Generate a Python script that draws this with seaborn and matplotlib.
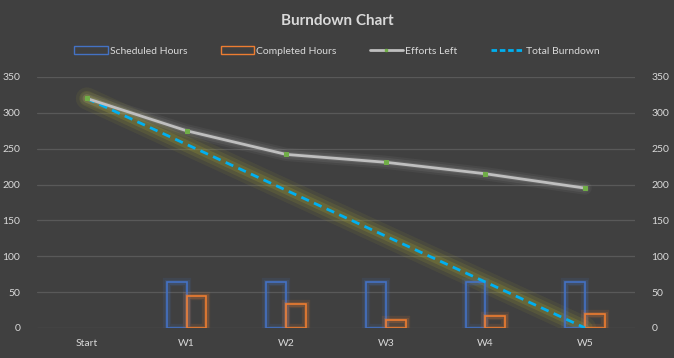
import numpy as np
import pandas as pd
import matplotlib
matplotlib.use("Agg")
import matplotlib.pyplot as plt
import matplotlib.patheffects as pe
from matplotlib.patches import Patch
from matplotlib.lines import Line2D
import seaborn as sns

# Dados
weeks = ["Start", "W1", "W2", "W3", "W4", "W5"]
scheduled = [0, 64, 64, 64, 64, 64]
completed = [0, 45, 33, 11, 16, 20]
efforts_left = [320, 275, 242, 231, 215, 195]
total_burndown = [320, 256, 192, 128, 64, 0]

bg = "#404040"
txt = "#D9D9D9"

sns.set_theme(style="dark")
plt.rcParams["font.family"] = ["Lato", "DejaVu Sans"]

fig = plt.figure(figsize=(6.74, 3.58), dpi=100, facecolor=bg)
ax = fig.add_axes([0.055, 0.084, 0.887, 0.701])
ax.set_facecolor(bg)

# Barras (só contorno)
df = pd.DataFrame({
    "week": weeks * 2,
    "hours": scheduled + completed,
    "serie": ["Scheduled Hours"] * 6 + ["Completed Hours"] * 6,
})
sns.barplot(data=df, x="week", y="hours", hue="serie", order=weeks,
            palette=["#4472C4", "#ED7D31"], fill=False, width=0.4,
            linewidth=1.2, legend=False, ax=ax, zorder=3)
for p in ax.patches:
    if p.get_height() == 0:
        p.set_visible(False)
        continue
    ec = p.get_edgecolor()
    p.set_path_effects([pe.Stroke(linewidth=6, foreground=ec, alpha=0.12),
                        pe.Stroke(linewidth=3.5, foreground=ec, alpha=0.2),
                        pe.Normal()])

x = np.arange(len(weeks))

# brilho (glow) por baixo das linhas
for lw, a in [(16, 0.08), (11, 0.12), (6, 0.18)]:
    sns.lineplot(x=x, y=total_burndown, ax=ax, color="#B8B830", linewidth=lw,
                 alpha=a, zorder=2, solid_capstyle="round")
    sns.lineplot(x=x, y=efforts_left, ax=ax, color="#A8A8A8", linewidth=lw * 0.6,
                 alpha=a, zorder=2, solid_capstyle="round")

sns.lineplot(x=x, y=total_burndown, ax=ax, color="#00B0F0", linewidth=2,
             zorder=4)
ax.lines[-1].set_dashes((3, 2))
sns.lineplot(x=x, y=efforts_left, ax=ax, color="#BFBFBF", linewidth=2,
             marker="s", markersize=2.5, markerfacecolor="#70AD47",
             markeredgecolor="#70AD47", zorder=5)

ax.set_xlim(-0.5, 5.5)
ax.set_ylim(0, 350)
ax.set_yticks(range(0, 351, 50))
ax.set_xticks(x)
ax.set_xticklabels(weeks)
ax.set_xlabel("")
ax.set_ylabel("")
ax.grid(axis="y", color="#595959", linewidth=0.9)
ax.grid(axis="x", visible=False)
ax.set_axisbelow(True)
for s in ax.spines.values():
    s.set_visible(False)
ax.tick_params(colors=txt, labelsize=7.5, length=0, pad=8)
ax.tick_params(axis="y", pad=12)

ax2 = ax.twinx()
ax2.set_ylim(0, 350)
ax2.set_yticks(range(0, 351, 50))
ax2.tick_params(colors=txt, labelsize=7.5, length=0, pad=12)
ax2.grid(False)
for s in ax2.spines.values():
    s.set_visible(False)

fig.text(0.5, 0.94, "Burndown Chart", ha="center", va="center",
         color=txt, fontsize=11, fontweight="bold")

handles = [
    Patch(facecolor="none", edgecolor="#4472C4", linewidth=1),
    Patch(facecolor="none", edgecolor="#ED7D31", linewidth=1),
    Line2D([], [], color="#BFBFBF", linewidth=2, marker="s", markersize=2,
           markerfacecolor="#70AD47", markeredgecolor="#70AD47"),
    Line2D([], [], color="#00B0F0", linewidth=2, dashes=(2, 1)),
]
labels = ["Scheduled Hours", "Completed Hours", "Efforts Left", "Total Burndown"]
fig.legend(handles, labels, loc="center", bbox_to_anchor=(0.5, 0.858), ncol=4,
           frameon=False, fontsize=7.5, labelcolor=txt, handlelength=3.2,
           handleheight=0.8, columnspacing=3.2, handletextpad=0.2)

fig.savefig("out.png", dpi=100, facecolor=bg)
